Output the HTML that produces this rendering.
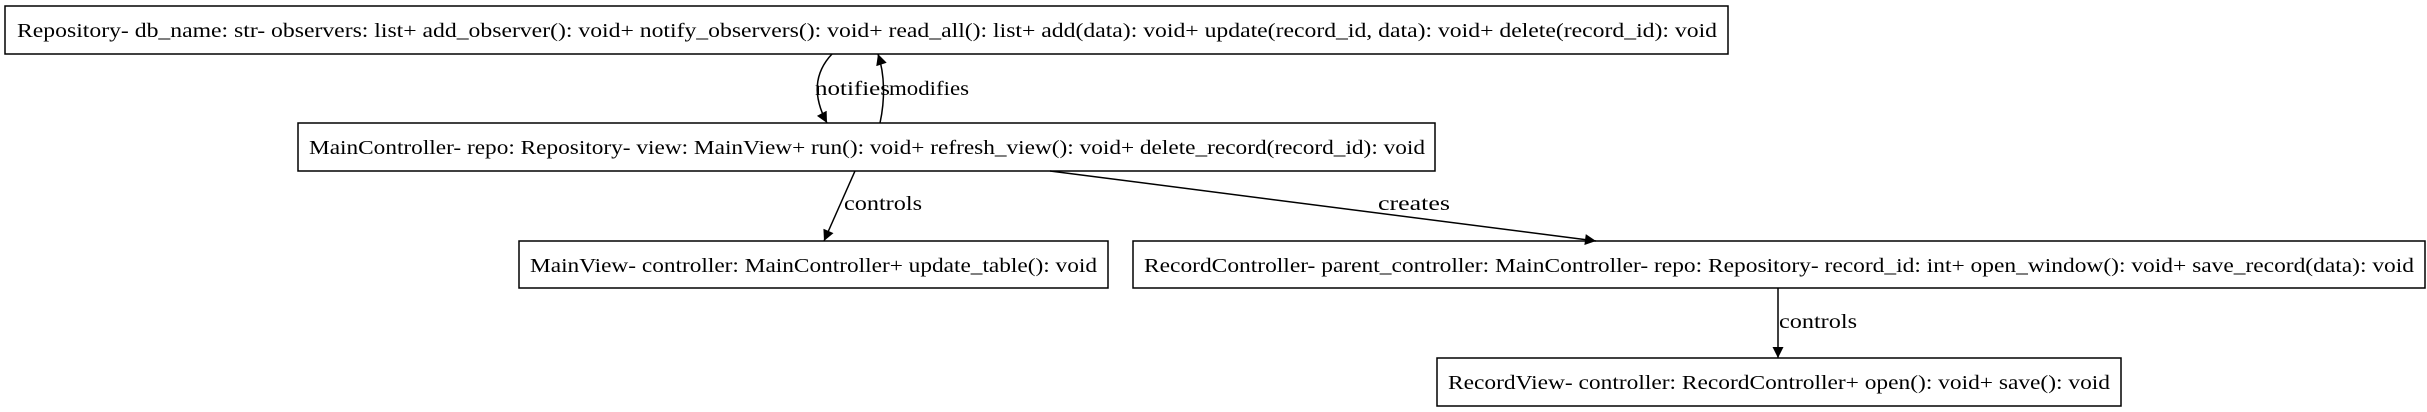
<!DOCTYPE html>
<html><head><meta charset="utf-8"><style>
html,body{margin:0;padding:0;background:#fff;}
svg{display:block;}
text{font-family:"Liberation Serif",serif;font-size:20px;fill:#000;}
</style></head><body>
<svg width="2427" height="412" viewBox="0 0 2427 412" xmlns="http://www.w3.org/2000/svg">
<defs><marker id="a" viewBox="0 0 10 10" refX="10" refY="5" markerWidth="14" markerHeight="11" markerUnits="userSpaceOnUse" orient="auto"><path d="M0,0 L10,5 L0,10 z" fill="#000"/></marker></defs>
<g fill="none" stroke="#000" stroke-width="1.5">
<rect x="5" y="6" width="1723" height="48"/>
<rect x="298" y="123" width="1137" height="48"/>
<rect x="519" y="241" width="589" height="47"/>
<rect x="1133" y="241" width="1292" height="47"/>
<rect x="1437" y="358" width="684" height="48"/>
<path d="M832,54 C815,72 812,95 827,123" marker-end="url(#a)"/>
<path d="M880,123 C885,100 885,75 878,54" marker-end="url(#a)"/>
<path d="M855,171 L824,241" marker-end="url(#a)"/>
<path d="M1050,171 L1596,241" marker-end="url(#a)"/>
<path d="M1778,288 L1778,358" marker-end="url(#a)"/>
</g>
<text x="17" y="37" textLength="1700" lengthAdjust="spacingAndGlyphs">Repository- db_name: str- observers: list+ add_observer(): void+ notify_observers(): void+ read_all(): list+ add(data): void+ update(record_id, data): void+ delete(record_id): void</text>
<text x="309" y="154" textLength="1116" lengthAdjust="spacingAndGlyphs">MainController- repo: Repository- view: MainView+ run(): void+ refresh_view(): void+ delete_record(record_id): void</text>
<text x="530" y="272" textLength="567" lengthAdjust="spacingAndGlyphs">MainView- controller: MainController+ update_table(): void</text>
<text x="1144" y="272" textLength="1270" lengthAdjust="spacingAndGlyphs">RecordController- parent_controller: MainController- repo: Repository- record_id: int+ open_window(): void+ save_record(data): void</text>
<text x="1448" y="389" textLength="662" lengthAdjust="spacingAndGlyphs">RecordView- controller: RecordController+ open(): void+ save(): void</text>
<text x="815" y="95" textLength="75" lengthAdjust="spacingAndGlyphs">notifies</text>
<text x="889" y="95" textLength="80" lengthAdjust="spacingAndGlyphs">modifies</text>
<text x="844" y="210" textLength="78" lengthAdjust="spacingAndGlyphs">controls</text>
<text x="1378" y="210" textLength="72" lengthAdjust="spacingAndGlyphs">creates</text>
<text x="1779" y="328" textLength="78" lengthAdjust="spacingAndGlyphs">controls</text>
</svg>
</body></html>
